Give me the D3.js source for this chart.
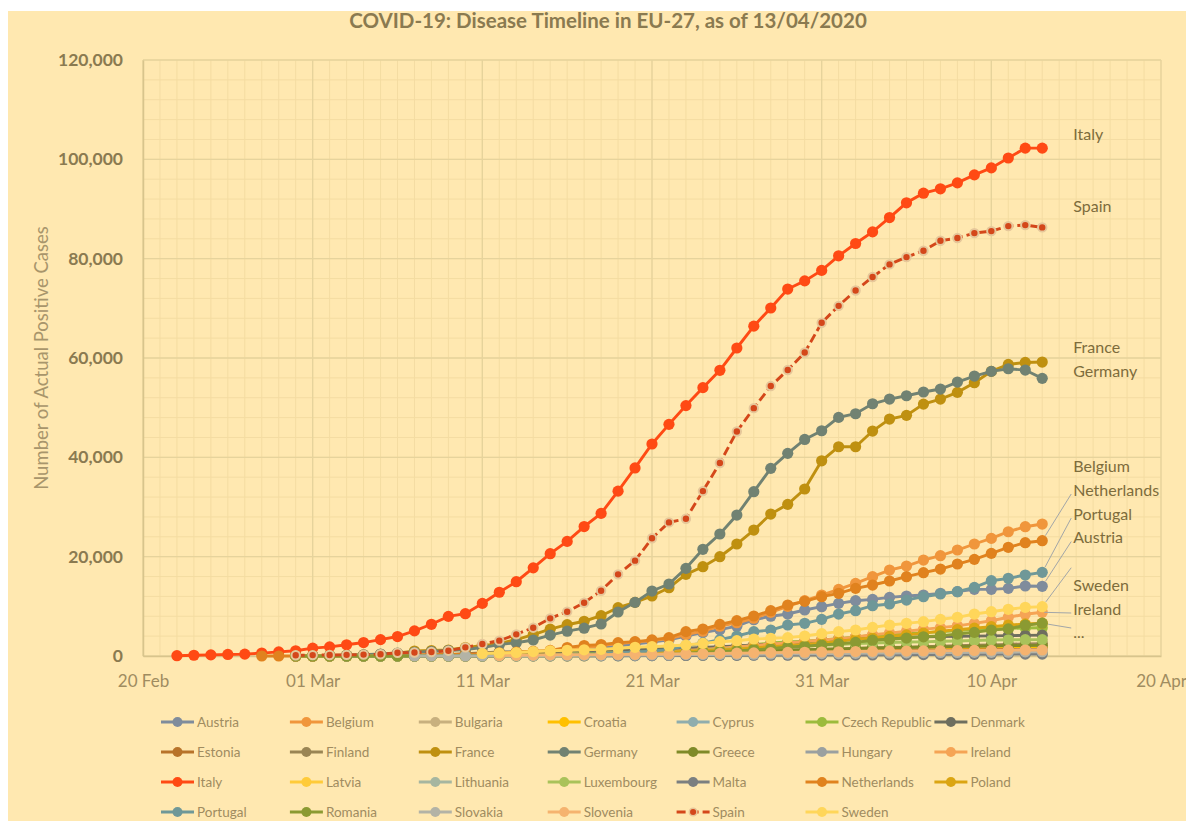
<!DOCTYPE html>
<html>
<head>
<meta charset="utf-8">
<title>COVID-19: Disease Timeline in EU-27</title>
<script src="https://cdn.jsdelivr.net/npm/d3@7"></script>
<style>
body { margin: 0; background: #fff; }
text { font-family: Lato, "Open Sans", sans-serif; }
</style>
</head>
<body>
<script>

// dates on the x axis (one point per day)
const dates = [
  "2020-02-22","2020-02-23","2020-02-24","2020-02-25","2020-02-26","2020-02-27","2020-02-28","2020-02-29",
  "2020-03-01","2020-03-02","2020-03-03","2020-03-04","2020-03-05","2020-03-06","2020-03-07","2020-03-08",
  "2020-03-09","2020-03-10","2020-03-11","2020-03-12","2020-03-13","2020-03-14","2020-03-15","2020-03-16",
  "2020-03-17","2020-03-18","2020-03-19","2020-03-20","2020-03-21","2020-03-22","2020-03-23","2020-03-24",
  "2020-03-25","2020-03-26","2020-03-27","2020-03-28","2020-03-29","2020-03-30","2020-03-31",
  "2020-04-01","2020-04-02","2020-04-03","2020-04-04","2020-04-05","2020-04-06","2020-04-07","2020-04-08",
  "2020-04-09","2020-04-10","2020-04-11","2020-04-12","2020-04-13"
];

const countries = ["Austria","Belgium","Bulgaria","Croatia","Cyprus","Czech Republic","Denmark",
  "Estonia","Finland","France","Germany","Greece","Hungary","Ireland",
  "Italy","Latvia","Lithuania","Luxembourg","Malta","Netherlands","Poland",
  "Portugal","Romania","Slovakia","Slovenia","Spain","Sweden"];

const colors = ["#7f8c9c","#f0963c","#c8b07e","#ffc000","#8fadad","#9cbb3c","#6e6e5e",
  "#b8732a","#9a8554","#bf9010","#718272","#7f8a28","#9aa0a0","#f5a455",
  "#ff4a14","#ffcb3a","#a6b6a0","#a9c25a","#7b7f80","#e0821e","#dba512",
  "#6f9898","#8b9a32","#b3b3a6","#f5b36f","#d4471a","#ffd65a"];

// each series ends on the last date; it starts where its own list starts
const austria = [9,14,18, 21,29,41,55,79,104,131,182,246,302, 504,655,860,1016,1332,1646,2013,2388,2814,3244,
  4000,4700,5300,6000,7300,8000,8450,9260,9930,10600, 11130,11400,11810,12080,12280,12620,12950,13420,13420,13620, 14090,14030];
const belgium = [1,2,8, 13,23,50,109,169,200,239,267,314,399, 559,689,886,1058,1600,2100,2500,2800,3100,3500,
  4300,5000,6000,6700,7600,8800,10000,11130,12280,13420, 14630,15970,17310,18120,19320,20190,21340,22550,23680,25020, 26030,26570];
const bulgaria = [4,6,7,23, 31,41,51,52,67,92,94,127,163,187, 201,218,242,264,293,331,346,359,399,422,
  457,485,503,531,549,577,593,618,635,661, 675,685];
const croatia = [7,7,7, 9,10,10,11,12,12,12,14,19,27, 32,38,49,57,65,81,105,128,206,254,
  315,382,442,495,586,657,713,790,867,963, 1011,1079,1126,1182,1222,1282,1343,1407,1495,1534, 1600,1650];
const cyprus = [2,3,6, 14,26,33,46,49,67,67,84,95,116, 124,132,146,162,179,214,230,262,320,356,
  396,426,446,465,494,526,564,595,616,633, 662,695];
const czech = [3,3, 5,5,8,19,26,32,38,63,94,116, 141,189,298,383,450,560,765,889,1047,1161,
  1287,1472,1654,1925,2279,2631,2817,3001,3257,3508, 3858,4091,4400,4500,4700,4850,5100,5300,5450,5550, 5650,5700];
const denmark = [1,2,3, 6,10,20,23,35,90,262,442,615,801, 827,864,914,977,1057,1151,1255,1337,1420,1514,
  1572,1718,1851,2023,2201,2366,2564,2800,3100,3300, 3450,3600,3700,3800,3850,3900,3950,4000,4050,4100, 4150,4200];
const estonia = [1,1,1, 2,3,10,10,10,10,10,13,16,27, 79,115,171,205,225,258,267,283,306,326,
  352,369,404,538,575,645,679,715,745,779, 858,961,1039,1097,1108,1149,1185,1207,1258,1304, 1309,1332];
const finland = [3,6,7, 7,12,15,19,22,29,39,58,105,153, 193,210,256,266,312,349,390,445,511,603,
  690,760,848,943,1031,1108,1210,1291,1380,1440, 1530,1600,1700,1770,1850,1950,2050,2150,2250,2350, 2450,2500];
const france = [50,100,130, 180,250,350,550,1000,1100,1200,1700,2100,2500, 3300,4300,5400,6300,7000,8110,9730,10800,12080,13750,
  16440,17980,19990,22550,25360,28580,30530,33620,39300,42130, 42130,45290,47710,48450,50720,51730,53080,55020,57300,58700, 59100,59180];
const germany = [20,100,130, 180,240,400,600,750,900,1100,1300,1700,2300, 2680,3220,4200,5000,5600,6440,8860,10800,13080,14500,
  17650,21480,24560,28380,33080,37780,40800,43600,45350,48040, 48780,50790,51730,52400,53150,53750,55160,56360,57300,57840, 57570,55900];
const greece = [7,7,7, 7,9,31,45,66,73,84,89,99,117, 190,228,331,352,387,418,464,495,530,624,
  695,743,821,892,966,1061,1156,1212,1314,1415, 1544,1613,1673,1735,1755,1832,1884,1955,2011,2081, 2114,2145];
const hungary = [2,2,7,7,9,9,12,13,16, 19,30,32,39,50,58,73,85,103,131, 167,187,226,261,300,343,408,447,492,525,
  585,623,678,733,744,817,895,980,1060,1100, 1150,1190];
const ireland = [1,1,1, 2,6,13,18,19,21,24,34,43,70, 90,129,169,223,292,366,557,683,785,906,
  1125,1329,1564,1819,2121,2415,2615,2910,3235,3447, 3849,4273,4604,4994,5364,5709,6074,6574,7100,7800, 8400,8800];
const italy = [62,150,221,311,385,588,821,1049,1577,1835, 2263,2706,3296,3916,5061,6387,7985,8514,10590,12839,
  14955,17750,20603,23073,26062,28710,33190,37860,42681,46638, 50418,54030,57521,62013,66414,70065,73880,75528,77635,80572,
  83049,85388,88274,91246,93187,94067,95262,96877,98273,100269, 102253,102253];
const latvia = [1,1,1,1,2,2,6,8,10,16, 17,26,30,34,49,71,86,111,124,139, 180,197,221,244,280,305,347,376,398,446,
  458,493,509,533,542,548,577,589,612,630, 651,655];
const lithuania = [1,1,1, 1,1,1,1,1,1,1,1,3,3, 6,8,12,17,25,27,36,49,83,143, 179,209,274,299,358,394,460,491,537,581,
  649,696,771,811,843,880,912,955,999,1026, 1053,1070];
const luxembourg = [1,1,1, 1,2,3,4,5,5,5,7,7,26, 34,51,59,77,140,203,335,484,670,798, 875,1099,1333,1453,1605,1831,1950,1988,2178,2319,
  2487,2612,2729,2804,2843,2970,3034,3115,3223,3270, 3281,3292];
const malta = [3,3,5,6,12,18, 21,30,38,38,48,53,64,73,90,107, 110,129,134,139,149,156,167,169,188,196,
  202,213,227,241,293,299,326,337,350,370, 378,384];
const netherlands = [1,2,7,10,18, 24,38,82,128,188,265,321,382,503,614, 804,959,1135,1700,2100,2300,2700,2900,3250,3700,
  4900,5430,6370,7110,8050,9120,10270,11000,11940,12620, 13620,14290,15100,15970,16770,17510,18520,19460,20670,21880, 22810,23210];
const poland = [1,1,5,5,11,16,22,31,49,68, 103,119,177,238,251,355,425,536,634,749, 901,1051,1221,1389,1638,1862,2055,2311,2554,2946,
  3383,3627,3947,4250,4600,5000,5300,5600,5900,6200, 6450,6600];
const portugal = [2,4,6,9,13,21,30,39,41,59, 78,112,169,245,331,448,642,785,1020,1280, 2100,2600,3300,4030,4900,5230,6240,6580,7380,8450,
  9120,10130,10470,11270,11940,12480,12950,13820,15160,15640, 16300,16840];
const romania = [3,3,3, 3,4,6,9,9,15,15,25,45,49, 89,123,131,158,184,260,277,308,367,433, 576,762,906,1029,1292,1452,1815,1952,2210,2460,
  2738,3183,3360,3613,3864,4057,4417,4761,5202,5467, 6200,6600];
const slovakia = [3,5,7,10,16,32, 44,61,72,105,123,137,178,185,204,216, 269,292,314,336,363,400,426,450,471,485,
  534,581,600,636,682,701,715,728,742,769, 835,863];
const slovenia = [89, 141,181,219,253,275,286,319,341,383,414, 442,480,528,562,632,684,730,756,802,841,
  897,934,977,997,1021,1059,1091,1124,1160,1188, 1205,1212];
const spain = [150,180,200, 230,280,350,650,700,800,1070,1740,2415,3090, 4360,5700,7580,8920,10730,13140,16440,19200,23700,26900,
  27640,33200,38850,45200,49900,54350,57570,61100,67100,70500, 73600,76300,78850,80320,81600,83600,84150,85150,85550,86560, 86760,86300];
const sweden = [500,600, 700,900,1050,1150,1250,1340,1550,1750,1880,2010,
  2210,2550,2880,3080,3420,3560,3690,4030,4500,4900, 5230,5770,6240,6580,6910,7380,7790,8450,8920,9400, 9800,9930];

const seriesValues = [austria, belgium, bulgaria, croatia, cyprus, czech, denmark,
  estonia, finland, france, germany, greece, hungary, ireland,
  italy, latvia, lithuania, luxembourg, malta, netherlands, poland,
  portugal, romania, slovakia, slovenia, spain, sweden];

// names written at the right end of the lines, placed at these values
const labelNames = ["Italy","Spain","France","Germany","Belgium","Netherlands","Portugal","Austria","Sweden","Ireland","..."];
const labelValues = [104960, 90590, 62100, 57290, 38090, 33420, 28580, 23850, 14150, 9460, 4830];
// labels with a leader line, and the series each one points to
const leaderLabels = ["Netherlands","Portugal","Austria","Sweden","Ireland","..."];
const leaderTargets = ["Netherlands","Portugal","Austria","Sweden","Ireland","Poland"];

const yTicks = [0, 20000, 40000, 60000, 80000, 100000, 120000];

const width = 1186, height = 821;
const plot = {left: 143, right: 1161, top: 60, bottom: 656};

const parseDate = d3.timeParse("%Y-%m-%d");
const xStart = parseDate("2020-02-20"), xEnd = parseDate("2020-04-20");

const x = d3.scaleTime().domain([xStart, xEnd]).range([plot.left, plot.right]);
const y = d3.scaleLinear().domain([0, 120000]).range([plot.bottom, plot.top]);

const series = countries.map(function(name, i) {
  var vals = seriesValues[i];
  var offset = dates.length - vals.length;
  return {
    name: name,
    color: colors[i],
    dashed: name === "Spain",
    points: vals.map(function(v, j) { return {date: parseDate(dates[offset + j]), value: v}; })
  };
});

const svg = d3.select("body").append("svg")
    .attr("width", width)
    .attr("height", height);

svg.append("rect")
    .attr("x", 8).attr("y", 11)
    .attr("width", width - 8).attr("height", height - 11)
    .attr("fill", "#ffe8b0");

// grid
var grid = svg.append("g");
var dayLines = d3.timeDay.range(xStart, d3.timeDay.offset(xEnd, 1));
grid.selectAll(".vminor").data(dayLines).enter().append("line")
    .attr("x1", d => x(d)).attr("x2", d => x(d))
    .attr("y1", plot.top).attr("y2", plot.bottom)
    .attr("stroke", "#f4dca2").attr("stroke-width", 1);
grid.selectAll(".hminor").data(d3.range(0, 120001, 4000)).enter().append("line")
    .attr("x1", plot.left).attr("x2", plot.right)
    .attr("y1", d => y(d)).attr("y2", d => y(d))
    .attr("stroke", "#f4dca2").attr("stroke-width", 1);

var xTickDates = d3.timeDay.range(xStart, d3.timeDay.offset(xEnd, 1), 10);
grid.selectAll(".vmajor").data(xTickDates).enter().append("line")
    .attr("x1", d => x(d)).attr("x2", d => x(d))
    .attr("y1", plot.top).attr("y2", plot.bottom)
    .attr("stroke", "#e6d39c").attr("stroke-width", 1.3);
grid.selectAll(".hmajor").data(yTicks).enter().append("line")
    .attr("x1", plot.left).attr("x2", plot.right)
    .attr("y1", d => y(d)).attr("y2", d => y(d))
    .attr("stroke", "#e6d39c").attr("stroke-width", 1.3);

// axes
var xAxis = svg.append("g")
    .attr("transform", "translate(0," + plot.bottom + ")")
    .call(d3.axisBottom(x).tickValues(xTickDates).tickFormat(d3.timeFormat("%d %b")).tickSize(0).tickPadding(19));
xAxis.select(".domain").attr("stroke", "#d8c48c").attr("stroke-width", 1.5);
xAxis.selectAll("text").attr("fill", "#a08c60").style("font-size", "17px");

var yAxis = svg.append("g")
    .attr("transform", "translate(" + plot.left + ",0)")
    .call(d3.axisLeft(y).tickValues(yTicks).tickFormat(d3.format(",")).tickSize(0).tickPadding(20));
yAxis.select(".domain").attr("stroke", "#d8c48c").attr("stroke-width", 1.5);
yAxis.selectAll("text").attr("fill", "#8a7a50").style("font-size", "17.5px").style("font-weight", "bold");

svg.append("text")
    .attr("transform", "translate(48," + ((plot.top + plot.bottom) / 2) + ") rotate(-90)")
    .attr("text-anchor", "middle")
    .attr("fill", "#a8956b")
    .style("font-size", "18.5px")
    .text("Number of Actual Positive Cases");

svg.append("text")
    .attr("x", 608).attr("y", 28)
    .attr("text-anchor", "middle")
    .attr("fill", "#8a7a50")
    .style("font-size", "20.5px")
    .style("font-weight", "bold")
    .text("COVID-19: Disease Timeline in EU-27, as of 13/04/2020");

// lines and markers, drawn series by series like the original
var line = d3.line().x(d => x(d.date)).y(d => y(d.value));

var sg = svg.selectAll(".series").data(series).enter().append("g");
sg.append("path")
    .attr("d", d => line(d.points))
    .attr("fill", "none")
    .attr("stroke", d => d.color)
    .attr("stroke-width", 2.9)
    .attr("stroke-dasharray", d => d.dashed ? "9,4" : null);
sg.selectAll("circle")
    .data(d => d.points.map(p => ({p: p, s: d})))
    .enter().append("circle")
    .attr("cx", d => x(d.p.date))
    .attr("cy", d => y(d.p.value))
    .attr("r", d => d.s.dashed ? 4.2 : 5.6)
    .attr("fill", d => d.s.color)
    .attr("stroke", d => d.s.dashed ? "#e6c79a" : "none")
    .attr("stroke-width", 2);

// labels at the right end
var lastDate = parseDate(dates[dates.length - 1]);
var labelX = x(lastDate) + 31;
svg.selectAll(".endlabel").data(labelNames).enter().append("text")
    .attr("x", labelX)
    .attr("y", (d, i) => y(labelValues[i]))
    .attr("dy", "0.35em")
    .attr("fill", "#7d6c3c")
    .style("font-size", "16px")
    .text(d => d);

leaderLabels.forEach(function(lab, i) {
  var ly = y(labelValues[labelNames.indexOf(lab)]);
  var s = series.find(d => d.name === leaderTargets[i]);
  var last = s.points[s.points.length - 1];
  var px = x(last.date), py = y(last.value);
  var sx = labelX - 2, sy = ly + (lab === "Sweden" ? -18 : (lab === "..." ? -4 : 4));
  var dx = sx - px, dy = sy - py, len = Math.sqrt(dx * dx + dy * dy);
  var gap = lab === "Ireland" ? 2 : 6;
  svg.append("line")
      .attr("x1", sx).attr("y1", sy)
      .attr("x2", px + dx / len * gap).attr("y2", py + dy / len * gap)
      .attr("stroke", "#a2a6a8").attr("stroke-width", 1);
});

// legend, 7 columns
var legend = svg.append("g");
var item = legend.selectAll("g").data(series).enter().append("g")
    .attr("transform", (d, i) => "translate(" + (161 + 128.9 * (i % 7)) + "," + (722 + 30 * Math.floor(i / 7)) + ")");
item.append("line")
    .attr("x1", 0).attr("x2", 33).attr("y1", 0).attr("y2", 0)
    .attr("stroke", d => d.color).attr("stroke-width", 3)
    .attr("stroke-dasharray", d => d.dashed ? "9,4" : null);
item.append("circle")
    .attr("cx", 16.5).attr("cy", 0)
    .attr("r", d => d.dashed ? 3.8 : 5)
    .attr("fill", d => d.color)
    .attr("stroke", d => d.dashed ? "#e6c79a" : "none")
    .attr("stroke-width", 1.5);
item.append("text")
    .attr("x", 36).attr("dy", "0.35em")
    .attr("fill", "#a08c60")
    .style("font-size", "13.5px")
    .text(d => d.name);

</script>
</body>
</html>
